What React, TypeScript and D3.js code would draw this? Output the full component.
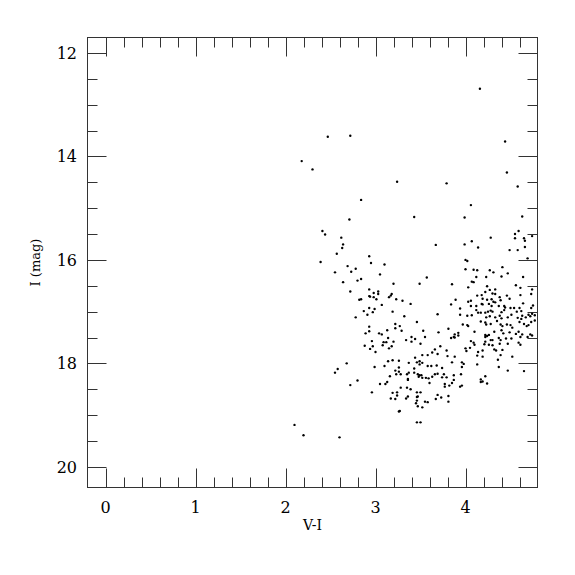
import * as d3 from 'd3';

// colour index V-I and I magnitude
const colorVI = [
  2.47, 2.72, 2.18, 2.30, 3.24, 2.84, 3.43, 2.71, 2.41, 2.44, 2.62, 2.64, 2.63, 2.57, 2.93, 2.39, 2.95, 3.10, 2.69, 2.78,
  2.55, 2.73, 3.05, 2.64, 2.80, 2.84, 3.20, 3.49, 2.72, 2.93, 2.98, 3.03, 2.93, 3.03, 2.94, 2.98, 3.01, 2.82, 2.84, 3.15,
  3.18, 3.17, 3.23, 3.30, 3.07, 3.39, 2.93, 2.99, 2.87, 2.97, 2.91, 3.19, 3.32, 2.78, 3.46, 3.22, 2.93, 3.22, 3.27, 2.93,
  2.89, 3.04, 3.07, 3.13, 3.29, 3.14, 2.96, 3.09, 3.12, 3.20, 3.34, 3.40, 3.44, 3.40, 2.88, 2.97, 3.08, 3.18, 3.15, 2.94,
  3.00, 3.44, 3.14, 3.19, 3.26, 3.37, 3.46, 3.49, 2.68, 2.58, 2.55, 2.99, 3.10, 3.26, 3.22, 3.26, 3.23, 3.28, 3.16, 3.35,
  3.43, 3.47, 3.48, 2.80, 2.72, 3.36, 3.13, 3.11, 3.05, 3.28, 3.35, 3.39, 3.46, 2.96, 3.19, 3.24, 3.24, 3.34, 3.36, 3.17,
  3.22, 3.46, 3.46, 3.45, 3.47, 3.27, 3.26, 2.10, 2.20, 2.60, 3.46, 3.50, 3.52, 3.55, 3.58, 3.69, 3.73, 3.67, 3.81, 3.81,
  3.77, 3.77, 3.82, 3.85, 3.94, 3.96, 4.17, 4.24,
  4.16, 4.44, 4.46, 3.79, 4.58, 4.06, 3.99, 4.63, 4.59, 4.55, 4.74, 4.28, 4.55, 4.65,
  4.66, 3.67, 3.99, 4.07, 4.14, 4.49, 4.58, 4.66, 4.69, 4.00, 4.02, 4.41, 4.00, 4.09, 4.13, 4.27, 4.31, 4.47, 3.57, 4.12,
  4.23, 4.40, 4.64, 4.07, 4.09, 3.85, 4.56, 4.61, 4.24, 4.03, 4.27, 4.33, 4.74, 4.22, 4.13, 4.18, 4.30, 4.33, 4.46, 4.61,
  4.73, 4.19, 4.24, 4.38, 4.39, 3.89, 4.03, 4.06, 4.29, 4.31, 4.49, 3.84, 4.06, 4.12, 4.18, 4.19, 4.26, 4.29, 4.33, 4.37,
  4.43, 4.44, 4.50, 4.54, 4.60, 4.64, 4.73, 4.75, 3.94, 4.12, 4.14, 4.17, 4.22, 4.25, 4.28, 4.30, 4.40, 4.43, 4.51, 4.57,
  4.62, 4.63, 4.70, 4.74, 3.69, 4.02, 4.07, 4.23, 4.27, 4.33, 4.38, 4.40, 4.47, 4.58, 4.62, 4.67, 4.72, 4.77, 3.94, 3.97,
  4.02, 4.17, 4.22, 4.23, 4.28, 4.35, 4.39, 4.41, 4.46, 4.50, 4.52, 4.60, 4.65, 4.68, 4.70, 4.73, 3.53, 3.70, 3.81, 3.88,
  3.92, 4.10, 4.03, 4.22, 4.26, 4.32, 4.40, 4.42, 4.49, 4.56, 4.59, 4.63, 4.72, 4.74, 3.88, 3.92, 4.77,
  3.50, 3.55, 3.84, 3.87, 3.72, 3.66, 3.79, 3.63, 3.69, 3.52, 3.58, 3.80, 3.88, 3.49, 3.52, 3.58, 3.62, 3.68, 3.74, 3.85,
  3.96, 3.98, 3.96, 4.13, 4.00, 4.01, 4.05, 4.06, 4.09, 4.10, 4.14, 4.19, 4.13, 4.19, 4.22, 4.21, 4.22, 4.24, 4.28, 4.30,
  4.26, 4.30, 4.32, 4.34, 4.37, 4.39, 4.38, 4.41, 4.39, 4.36, 4.37, 4.45, 4.51, 4.47, 4.52, 4.47, 4.59, 4.61, 4.61, 4.69,
  4.65, 4.22, 4.17, 4.19, 3.37, 3.43, 3.36, 3.49, 3.51, 3.52, 3.56, 3.59, 3.60, 3.50, 3.47, 3.63, 3.66, 3.69, 3.74, 3.76,
  3.79, 3.87, 3.87, 3.95,
];
const magI = [
  13.62, 13.60, 14.09, 14.25, 14.49, 14.84, 15.17, 15.22, 15.44, 15.51, 15.57, 15.70, 15.77, 15.88, 15.93, 16.04, 16.06, 16.09, 16.12, 16.17,
  16.24, 16.23, 16.28, 16.43, 16.40, 16.37, 16.46, 16.46, 16.61, 16.57, 16.64, 16.61, 16.70, 16.66, 16.71, 16.72, 16.76, 16.77, 16.76, 16.72,
  16.66, 16.69, 16.76, 16.79, 16.87, 16.85, 16.93, 16.95, 16.99, 17.01, 17.06, 17.00, 17.09, 17.11, 17.20, 17.24, 17.29, 17.32, 17.28, 17.38,
  17.42, 17.42, 17.44, 17.36, 17.37, 17.51, 17.57, 17.59, 17.59, 17.58, 17.55, 17.58, 17.53, 17.49, 17.66, 17.67, 17.65, 17.67, 17.71, 17.72,
  17.78, 17.89, 17.96, 17.94, 17.95, 17.99, 17.98, 18.02, 18.00, 18.11, 18.18, 18.07, 18.05, 18.08, 18.14, 18.16, 18.21, 18.21, 18.25, 18.21,
  18.10, 18.21, 18.26, 18.33, 18.42, 18.32, 18.36, 18.40, 18.40, 18.47, 18.47, 18.50, 18.56, 18.56, 18.57, 18.56, 18.62, 18.68, 18.64, 18.68,
  18.69, 18.65, 18.72, 18.77, 18.83, 18.92, 18.93, 19.19, 19.39, 19.43, 19.14, 19.14, 18.85, 18.74, 18.75, 18.61, 18.66, 18.69, 18.63, 18.74,
  18.40, 18.45, 18.43, 18.38, 18.45, 18.43, 18.36, 18.39,
  12.69, 13.71, 14.31, 14.52, 14.58, 14.94, 15.18, 15.16, 15.44, 15.50, 15.54, 15.57, 15.58, 15.58,
  15.63, 15.71, 15.70, 15.64, 15.76, 15.81, 15.81, 15.75, 15.97, 16.00, 16.02, 16.14, 16.18, 16.19, 16.20, 16.20, 16.24, 16.26, 16.34, 16.33,
  16.33, 16.32, 16.33, 16.42, 16.43, 16.47, 16.49, 16.54, 16.51, 16.53, 16.58, 16.57, 16.57, 16.62, 16.69, 16.68, 16.65, 16.66, 16.69, 16.68,
  16.66, 16.75, 16.77, 16.72, 16.78, 16.77, 16.81, 16.79, 16.76, 16.81, 16.75, 16.86, 16.89, 16.89, 16.85, 16.86, 16.85, 16.89, 16.82, 16.89,
  16.89, 16.92, 16.93, 16.93, 16.93, 16.84, 16.93, 16.88, 16.94, 16.97, 17.02, 17.02, 17.02, 17.00, 16.98, 17.00, 17.01, 16.97, 17.06, 17.00,
  16.99, 17.08, 17.06, 17.04, 17.05, 17.08, 17.07, 17.11, 17.09, 17.11, 17.08, 17.13, 17.11, 17.12, 17.14, 17.11, 17.09, 17.07, 17.06, 17.25,
  17.26, 17.19, 17.21, 17.25, 17.24, 17.18, 17.25, 17.28, 17.25, 17.26, 17.31, 17.20, 17.24, 17.28, 17.26, 17.20, 17.37, 17.40, 17.33, 17.44,
  17.41, 17.39, 17.28, 17.45, 17.45, 17.39, 17.36, 17.42, 17.40, 17.43, 17.39, 17.44, 17.44, 17.46, 17.50, 17.46, 17.17,
  17.62, 17.49, 17.51, 17.49, 17.67, 17.73, 17.75, 17.79, 17.82, 17.84, 17.84, 17.86, 17.87, 17.96, 17.99, 18.05, 18.05, 18.04, 18.09, 17.98,
  17.98, 18.01, 18.07, 18.02, 17.71, 17.76, 17.70, 17.57, 17.60, 17.64, 17.78, 17.75, 17.85, 17.87, 17.58, 17.63, 17.49, 17.47, 17.55, 17.55,
  17.64, 17.65, 17.73, 17.75, 17.51, 17.55, 17.62, 17.74, 17.84, 17.93, 18.07, 17.52, 17.52, 17.62, 17.87, 18.14, 17.60, 17.64, 17.49, 17.49,
  18.15, 18.25, 18.31, 18.35, 18.18, 18.18, 18.30, 18.23, 18.23, 18.28, 18.28, 18.29, 18.38, 18.56, 18.64, 18.26, 18.21, 18.20, 18.27, 18.21,
  18.27, 18.23, 18.32, 18.21,
];

const xMajor = [0, 1, 2, 3, 4];
const xTickLabels = ['0', '1', '2', '3', '4'];
const yMajor = [12, 14, 16, 18, 20];
const yTickLabels = ['12', '14', '16', '18', '20'];

function App() {
  const left = 87.5, right = 537.5, top = 37.5, bottom = 487.5;
  const x = d3.scaleLinear().domain([-0.2, 4.8]).range([left, right]);
  const y = d3.scaleLinear().domain([11.7, 20.4]).range([top, bottom]);

  const xMinor = d3.range(1, 24).map((i) => i * 0.2).filter((v) => Math.abs(v - Math.round(v)) > 1e-6);
  const yMinor = d3.range(25, 41).map((i) => i * 0.5).filter((v) => v % 2 !== 0);

  const major = 19, minor = 10;
  const stroke = '#333';
  const font = '"DejaVu Serif", serif';

  const points = colorVI.map((v, i) => [v, magI[i]]);

  return (
    <svg width={575} height={575} style={{ position: 'absolute', left: 0, top: 0 }}>
      <rect x={0} y={0} width={575} height={575} fill="#fff" />
      <g stroke={stroke} strokeWidth={1}>
        {xMajor.map((v) => (
          <g key={'xM' + v}>
            <line x1={Math.round(x(v)) + 0.5} x2={Math.round(x(v)) + 0.5} y1={bottom} y2={bottom - major} />
            <line x1={Math.round(x(v)) + 0.5} x2={Math.round(x(v)) + 0.5} y1={top} y2={top + major} />
          </g>
        ))}
        {xMinor.map((v) => (
          <g key={'xm' + v}>
            <line x1={Math.round(x(v)) + 0.5} x2={Math.round(x(v)) + 0.5} y1={bottom} y2={bottom - minor} />
            <line x1={Math.round(x(v)) + 0.5} x2={Math.round(x(v)) + 0.5} y1={top} y2={top + minor} />
          </g>
        ))}
        {yMajor.map((v) => (
          <g key={'yM' + v}>
            <line y1={Math.round(y(v)) + 0.5} y2={Math.round(y(v)) + 0.5} x1={left} x2={left + major} />
            <line y1={Math.round(y(v)) + 0.5} y2={Math.round(y(v)) + 0.5} x1={right} x2={right - major} />
          </g>
        ))}
        {yMinor.map((v) => (
          <g key={'ym' + v}>
            <line y1={Math.round(y(v)) + 0.5} y2={Math.round(y(v)) + 0.5} x1={left} x2={left + minor} />
            <line y1={Math.round(y(v)) + 0.5} y2={Math.round(y(v)) + 0.5} x1={right} x2={right - minor} />
          </g>
        ))}
        <rect x={left} y={top} width={right - left} height={bottom - top} fill="none" />
      </g>

      <g fill="#000">
        {points.map((d, i) => (
          <circle key={i} cx={x(d[0])} cy={y(d[1])} r={1.2} />
        ))}
      </g>

      <g fontFamily={font} fontSize={16} fill="#000">
        {xMajor.map((v, i) => (
          <text key={'xl' + v} x={x(v)} y={513} textAnchor="middle">{xTickLabels[i]}</text>
        ))}
        {yMajor.map((v, i) => (
          <text key={'yl' + v} x={77} y={y(v) + 6} textAnchor="end">{yTickLabels[i]}</text>
        ))}
      </g>
      <text x={(left + right) / 2} y={530} textAnchor="middle" fontFamily={font} fontSize={14}>V-I</text>
      <text transform={`translate(40,${(top + bottom) / 2}) rotate(-90)`} textAnchor="middle" fontFamily={font} fontSize={13}>I (mag)</text>
    </svg>
  );
}

export default App;
